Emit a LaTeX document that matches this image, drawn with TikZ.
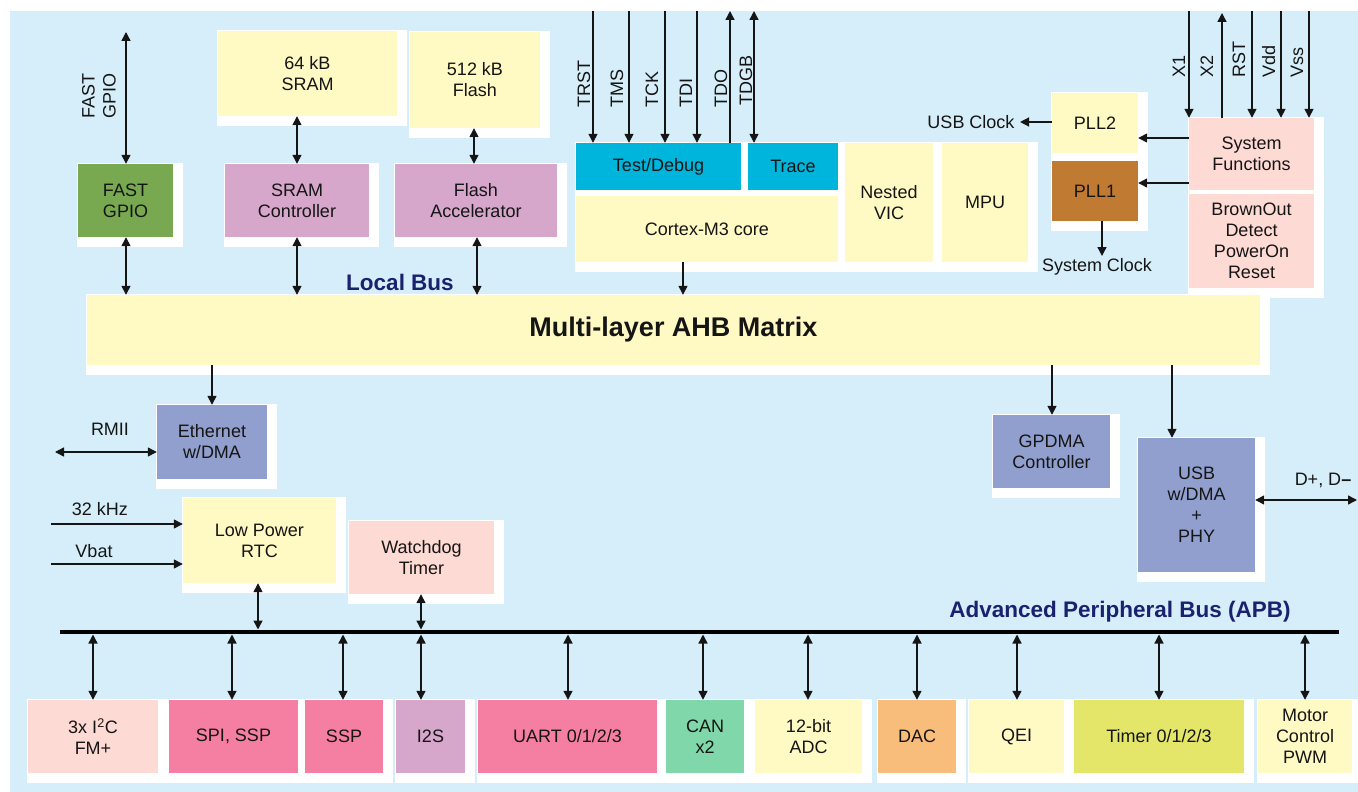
\documentclass[tikz,border=0pt]{standalone}
\usepackage{fontspec}
\setmainfont{Liberation Sans}
\usetikzlibrary{arrows.meta}
\definecolor{bgblue}{HTML}{D6EEF9}
\definecolor{pyellow}{HTML}{FFF9C4}
\definecolor{lilac}{HTML}{D6A6CB}
\definecolor{gpiogreen}{HTML}{78A84F}
\definecolor{dbgcyan}{HTML}{00B5DB}
\definecolor{pllbrown}{HTML}{C07A32}
\definecolor{ppink}{HTML}{FDDAD4}
\definecolor{peri}{HTML}{919FCE}
\definecolor{hotpink}{HTML}{F47FA2}
\definecolor{mint}{HTML}{80D7AA}
\definecolor{dacorange}{HTML}{F8BD7B}
\definecolor{ygreen}{HTML}{E4E66A}
\definecolor{navy}{HTML}{1A2270}
\definecolor{ink}{HTML}{151515}
\pgfdeclarelayer{bglayer}
\pgfdeclarelayer{shadowlayer}
\pgfsetlayers{bglayer,shadowlayer,main}
% \mkblk[extra options]{name}{x1}{y1}{x2}{y2}{fill}{text}
\newcommand\mkblk[8][]{\node[blk, fill=#7, minimum width={(#5)-(#3)}, minimum height={(#6)-(#4)}, #1] (#2) at ({((#3)+(#5))/2},{((#4)+(#6))/2}) {#8};}
\begin{document}
\begin{tikzpicture}[x=1pt,y=-1pt,
  blk/.style={inner sep=0pt, align=center, font=\fontsize{18}{21}\selectfont, text=ink},
  lbl/.style={font=\fontsize{18}{21}\selectfont, text=ink},
  pin/.style={lbl, rotate=90, anchor=base west, inner sep=0pt},
  busname/.style={font=\bfseries\fontsize{22.5}{26}\selectfont, text=navy},
  arr/.style={line width=1.4pt, draw=ink, -{Triangle[length=9pt,width=9pt]}},
  biarr/.style={line width=1.4pt, draw=ink, {Triangle[length=9pt,width=9pt]}-{Triangle[length=9pt,width=9pt]}},
]
\useasboundingbox (0,0) rectangle (1358,792);
\begin{pgfonlayer}{bglayer}
\fill[white] (0,0) rectangle (1358,792);
\fill[bgblue] (10,11) rectangle (1358,792);
\end{pgfonlayer}

% memory and local bus blocks
\mkblk{sram}{218}{31}{397}{116}{pyellow}{64 kB\\SRAM}
\mkblk{flash}{410}{32}{540}{128}{pyellow}{512 kB\\Flash}
\mkblk{gpio}{78}{164}{173}{237}{gpiogreen}{FAST\\GPIO}
\mkblk{sramc}{225}{164}{369}{237}{lilac}{SRAM\\Controller}
\mkblk{flacc}{395}{164}{557}{237}{lilac}{Flash\\Accelerator}
% core group
\mkblk{td}{576}{143}{741}{190}{dbgcyan}{Test/Debug}
\mkblk{trace}{748}{143}{838}{190}{dbgcyan}{Trace}
\mkblk{core}{576}{196}{838}{262}{pyellow}{Cortex-M3 core}
\mkblk{nvic}{845}{143}{933}{262}{pyellow}{Nested\\VIC}
\mkblk{mpu}{942}{143}{1028}{262}{pyellow}{MPU}
% clocks and system
\mkblk{pll2}{1052}{93}{1138}{153}{pyellow}{PLL2}
\mkblk{pll1}{1052}{161}{1138}{221}{pllbrown}{PLL1}
\mkblk{sysf}{1189}{118}{1314}{190}{ppink}{System\\Functions}
\mkblk{bod}{1189}{194}{1314}{288}{ppink}{BrownOut\\Detect\\PowerOn\\Reset}
% matrix
\mkblk[font=\bfseries\fontsize{27}{30}\selectfont]{matrix}{87}{295}{1260}{365}{pyellow}{Multi-layer AHB Matrix}
% AHB peripherals
\mkblk{eth}{157}{405}{267}{479}{peri}{Ethernet\\w/DMA}
\mkblk{rtc}{183}{498}{336}{583}{pyellow}{Low Power\\RTC}
\mkblk{wdt}{349}{521}{494}{594}{ppink}{Watchdog\\Timer}
\mkblk{gpdma}{993}{415}{1110}{488}{peri}{GPDMA\\Controller}
\mkblk{usb}{1138}{438}{1255}{572}{peri}{USB\\w/DMA\\+\\PHY}
% APB peripherals
\mkblk{i2c}{28}{700}{158}{773}{ppink}{3x I\textsuperscript{2}C\\FM+}
\mkblk{spi}{169}{700}{298}{773}{hotpink}{SPI, SSP}
\mkblk{ssp}{305}{700}{383}{773}{hotpink}{SSP}
\mkblk{i2s}{396}{700}{465}{773}{lilac}{I2S}
\mkblk{uart}{478}{700}{657}{773}{hotpink}{UART 0/1/2/3}
\mkblk{can}{666}{700}{744}{773}{mint}{CAN\\x2}
\mkblk{adc}{755}{700}{862}{773}{pyellow}{12-bit\\ADC}
\mkblk{dac}{878}{700}{956}{773}{dacorange}{DAC}
\mkblk{qei}{969}{700}{1064}{773}{pyellow}{QEI}
\mkblk{timer}{1074}{700}{1244}{773}{ygreen}{Timer 0/1/2/3}
\mkblk{pwm}{1258}{700}{1352}{773}{pyellow}{Motor\\Control\\PWM}

% white shadows
\begin{pgfonlayer}{shadowlayer}
\foreach \n in {sram,flash,gpio,sramc,flacc,td,trace,core,nvic,mpu,pll2,pll1,sysf,bod,matrix,eth,rtc,wdt,gpdma,usb,i2c,spi,ssp,i2s,uart,can,adc,dac,qei,timer,pwm}
  \fill[white] ([shift={(-1,-1)}]\n.north west) rectangle ([shift={(10,10)}]\n.south east);
\end{pgfonlayer}

% labels
\node[lbl, rotate=90, align=center] (gpiolbl) at (99,96) {FAST\\GPIO};
\node[busname] (localbus) at (400,282) {Local Bus};
\node[busname] (apbname) at (1120,612) {Advanced Peripheral Bus (APB)};
\node[lbl] (usbclk) at (971,122) {USB Clock};
\node[lbl] (sysclk) at (1097,267) {System Clock};
\node[lbl] (rmii) at (110,429) {RMII};
\node[lbl] (khz) at (100,509) {32 kHz};
\node[lbl] (vbat) at (94,551) {Vbat};
\node[lbl] (dpm) at (1323,480) {D+, D\textbf{--}};

\node[pin] (ltrst) at (590,108) {TRST};
\node[pin] (ltms) at (623,108) {TMS};
\node[pin] (ltck) at (658,108) {TCK};
\node[pin] (ltdi) at (692,108) {TDI};
\node[pin] (ltdo) at (727,108) {TDO};
\node[pin] (ltdgb) at (752,106) {TDGB};
\node[pin] (lx1) at (1185,78) {X1};
\node[pin] (lx2) at (1213,78) {X2};
\node[pin] (lrst) at (1245,78) {RST};
\node[pin] (lvdd) at (1275,78) {Vdd};
\node[pin] (lvss) at (1303,78) {Vss};

% free ends
\coordinate (gpiotop) at (126,32);
\coordinate (ptrst) at (593,11);
\coordinate (ptms) at (629,11);
\coordinate (ptck) at (665,11);
\coordinate (ptdi) at (697,11);
\coordinate (ptdo) at (730,11);
\coordinate (ptdgb) at (754,11);
\coordinate (px1) at (1189,11);
\coordinate (px2) at (1222,13);
\coordinate (prst) at (1252,11);
\coordinate (pvdd) at (1281,11);
\coordinate (pvss) at (1309,11);
\coordinate (sysclkend) at (1102,256);
\coordinate (rmiiend) at (55,452);
\coordinate (khzend) at (51,524);
\coordinate (vbatend) at (51,564);
\coordinate (dpmend) at (1357,500);
\coordinate (apbL) at (60,632);
\coordinate (apbR) at (1339,632);
\coordinate (apbtop) at (60,629.5);
\coordinate (apbbot) at (60,634.5);

% APB bus
\draw[line width=4.5pt, draw=black] (apbL) -- (apbR);

% local bus arrows
\draw[biarr] (gpiotop) -- (gpio.north -| gpiotop);
\draw[biarr] (sram.south -| 297,0) -- (sramc.north -| 297,0);
\draw[biarr] (flash.south -| 474,0) -- (flacc.north -| 474,0);
\draw[biarr] (gpio.south -| 126,0) -- (matrix.north -| 126,0);
\draw[biarr] (sramc.south -| 297,0) -- (matrix.north -| 297,0);
\draw[biarr] (flacc.south -| 477,0) -- (matrix.north -| 477,0);
\draw[arr] (core.south -| 683,0) -- (matrix.north -| 683,0);

% JTAG
\draw[arr] (ptrst) -- (td.north -| ptrst);
\draw[arr] (ptms) -- (td.north -| ptms);
\draw[arr] (ptck) -- (td.north -| ptck);
\draw[arr] (ptdi) -- (td.north -| ptdi);
\draw[arr] (td.north -| ptdo) -- (ptdo);
\draw[biarr] (ptdgb) -- (trace.north -| ptdgb);

% system pins
\draw[arr] (px1) -- (sysf.north -| px1);
\draw[arr] (sysf.north -| px2) -- (px2);
\draw[arr] (prst) -- (sysf.north -| prst);
\draw[arr] (pvdd) -- (sysf.north -| pvdd);
\draw[arr] (pvss) -- (sysf.north -| pvss);

% clocks
\draw[arr] (sysf.west |- 0,138) -- (pll2.east |- 0,138);
\draw[arr] (sysf.west |- 0,183) -- (pll1.east |- 0,183);
\draw[arr] (pll2.west |- usbclk) -- ([xshift=2pt]usbclk.east);
\draw[arr] (pll1.south -| sysclkend) -- (sysclkend);

% matrix to AHB peripherals
\draw[arr] (matrix.south -| 212,0) -- (eth.north -| 212,0);
\draw[arr] (matrix.south -| 1052,0) -- (gpdma.north -| 1052,0);
\draw[arr] (matrix.south -| 1172,0) -- (usb.north -| 1172,0);
\draw[biarr] (rmiiend) -- (eth.west |- rmiiend);
\draw[arr] (khzend) -- (rtc.west |- khzend);
\draw[arr] (vbatend) -- (rtc.west |- vbatend);
\draw[biarr] (usb.east |- dpmend) -- (dpmend);

% APB connections
\draw[biarr] (rtc.south -| 258,0) -- (apbtop -| 258,0);
\draw[biarr] (wdt.south -| 421,0) -- (apbtop -| 421,0);
\foreach \p/\x in {i2c/93,spi/232,ssp/343,i2s/421,uart/568,can/703,adc/808,dac/917,qei/1017,timer/1159,pwm/1305}
  \draw[biarr] (apbbot -| \x,0) -- (\p.north -| \x,0);
\end{tikzpicture}
\end{document}
